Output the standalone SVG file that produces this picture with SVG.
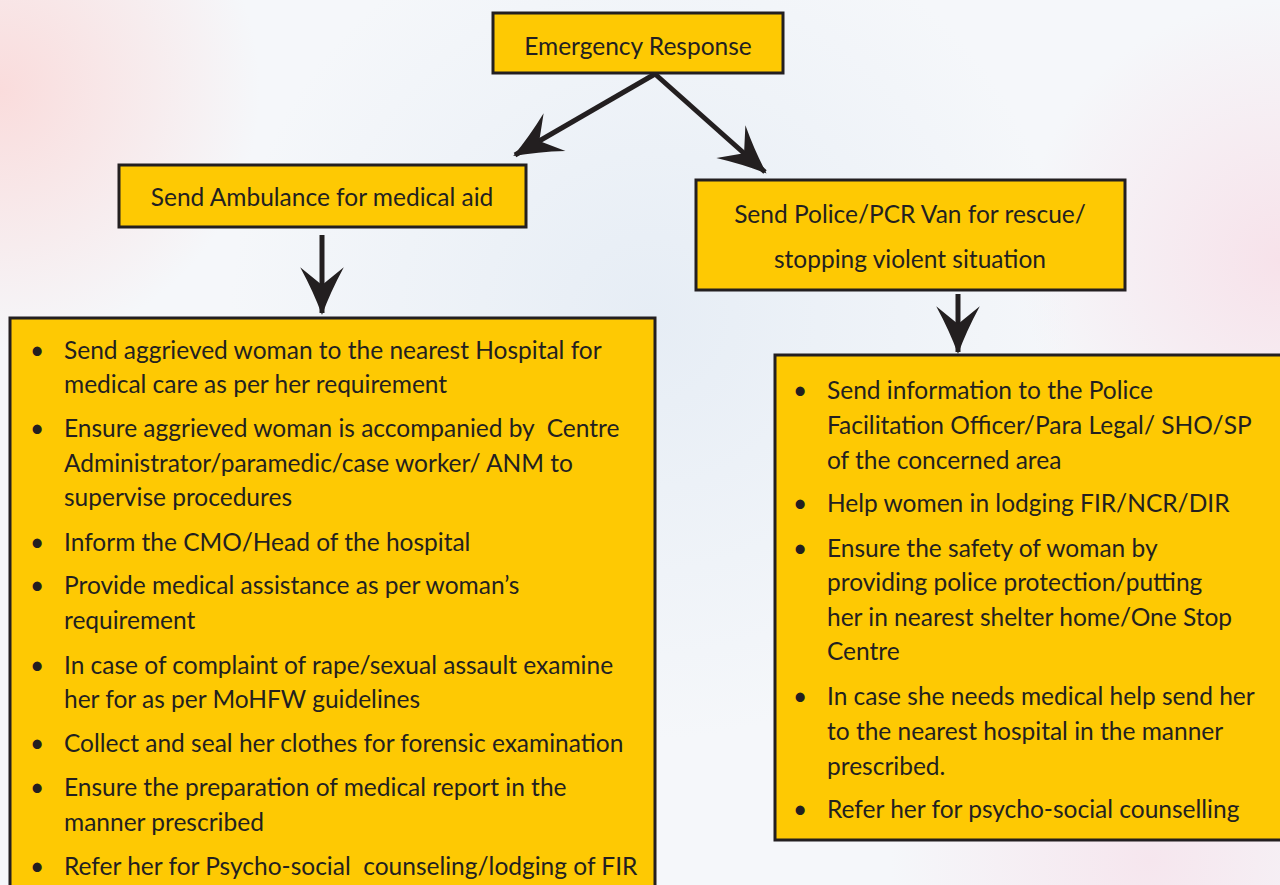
<svg xmlns="http://www.w3.org/2000/svg" width="1280" height="885" viewBox="0 0 1280 885">
  <defs>
    <radialGradient id="tintPink" cx="0" cy="90" r="260" gradientUnits="userSpaceOnUse">
      <stop offset="0" stop-color="#fadcdc"/>
      <stop offset="1" stop-color="#fadcdc" stop-opacity="0"/>
    </radialGradient>
    <radialGradient id="tintRight" cx="1280" cy="260" r="260" gradientUnits="userSpaceOnUse">
      <stop offset="0" stop-color="#f7e2ea"/>
      <stop offset="1" stop-color="#f7e2ea" stop-opacity="0"/>
    </radialGradient>
    <radialGradient id="tintLow" cx="1150" cy="860" r="260" gradientUnits="userSpaceOnUse">
      <stop offset="0" stop-color="#f6e6ee"/>
      <stop offset="1" stop-color="#f6e6ee" stop-opacity="0"/>
    </radialGradient>
    <radialGradient id="tintBlue" cx="650" cy="320" r="420" gradientUnits="userSpaceOnUse">
      <stop offset="0" stop-color="#e6edf5"/>
      <stop offset="1" stop-color="#e6edf5" stop-opacity="0"/>
    </radialGradient>
    <marker id="head" markerUnits="userSpaceOnUse" markerWidth="54" markerHeight="54" viewBox="-48 -24 52 48" refX="0" refY="0" orient="auto">
      <path d="M2,0 Q-20,-8 -44,-21 L-27,0 L-44,21 Q-20,8 2,0 Z" fill="#231f20"/>
    </marker>
    <style>
      .box { fill: #fec903; stroke: #231f20; stroke-width: 3; }
      .lbl { font-family: Lato, "Liberation Sans", sans-serif; font-size: 24.5px; fill: #231f20; }
      .mid { text-anchor: middle; }
      .conn { stroke: #231f20; stroke-width: 5; fill: none; marker-end: url(#head); }
    </style>
  </defs>

  <!-- pale washed background -->
  <rect width="1280" height="885" fill="#f5f7fa"/>
  <rect width="1280" height="885" fill="url(#tintBlue)"/>
  <rect width="1280" height="885" fill="url(#tintPink)"/>
  <rect width="1280" height="885" fill="url(#tintRight)"/>
  <rect width="1280" height="885" fill="url(#tintLow)"/>

  <g id="connectors">
    <line class="conn" x1="655" y1="74" x2="515" y2="155"/>
    <line class="conn" x1="655" y1="74" x2="765" y2="172"/>
    <line class="conn" x1="322" y1="235" x2="322" y2="313"/>
    <line class="conn" x1="958" y1="294" x2="958" y2="352"/>
  </g>

  <g id="emergency">
    <rect class="box" x="493" y="13" width="290" height="60"/>
    <text class="lbl mid" x="638" y="55">Emergency Response</text>
  </g>

  <g id="ambulance">
    <rect class="box" x="119" y="165" width="407" height="62"/>
    <text class="lbl mid" x="322" y="206">Send Ambulance for medical aid</text>
  </g>

  <g id="police">
    <rect class="box" x="696" y="180" width="429" height="110"/>
    <text class="lbl mid" x="910" y="223">Send Police/PCR Van for rescue/</text>
    <text class="lbl mid" x="910" y="268">stopping violent situation</text>
  </g>

  <g id="medical-steps">
    <rect class="box" x="10" y="318" width="645" height="580"/>
    <g class="lbl">
      <text x="30" y="359">•</text>
      <text x="64" y="359">Send aggrieved woman to the nearest Hospital for</text>
      <text x="64" y="393">medical care as per her requirement</text>
      <text x="30" y="437">•</text>
      <text x="64" y="437">Ensure aggrieved woman is accompanied by&#160; Centre</text>
      <text x="64" y="472">Administrator/paramedic/case worker/ ANM to</text>
      <text x="64" y="506">supervise procedures</text>
      <text x="30" y="551">•</text>
      <text x="64" y="551">Inform the CMO/Head of the hospital</text>
      <text x="30" y="594">•</text>
      <text x="64" y="594">Provide medical assistance as per woman’s</text>
      <text x="64" y="629">requirement</text>
      <text x="30" y="674">•</text>
      <text x="64" y="674">In case of complaint of rape/sexual assault examine</text>
      <text x="64" y="708">her for as per MoHFW guidelines</text>
      <text x="30" y="752">•</text>
      <text x="64" y="752">Collect and seal her clothes for forensic examination</text>
      <text x="30" y="796">•</text>
      <text x="64" y="796">Ensure the preparation of medical report in the</text>
      <text x="64" y="831">manner prescribed</text>
      <text x="30" y="875">•</text>
      <text x="64" y="875">Refer her for Psycho-social&#160; counseling/lodging of FIR</text>
    </g>
  </g>

  <g id="police-steps">
    <rect class="box" x="775" y="355" width="520" height="485"/>
    <g class="lbl">
      <text x="793" y="399">•</text>
      <text x="827" y="399">Send information to the Police</text>
      <text x="827" y="434">Facilitation Officer/Para Legal/ SHO/SP</text>
      <text x="827" y="469">of the concerned area</text>
      <text x="793" y="512">•</text>
      <text x="827" y="512">Help women in lodging FIR/NCR/DIR</text>
      <text x="793" y="557">•</text>
      <text x="827" y="557">Ensure the safety of woman by</text>
      <text x="827" y="591">providing police protection/putting</text>
      <text x="827" y="626">her in nearest shelter home/One Stop</text>
      <text x="827" y="660">Centre</text>
      <text x="793" y="705">•</text>
      <text x="827" y="705">In case she needs medical help send her</text>
      <text x="827" y="740">to the nearest hospital in the manner</text>
      <text x="827" y="775">prescribed.</text>
      <text x="793" y="818">•</text>
      <text x="827" y="818">Refer her for psycho-social counselling</text>
    </g>
  </g>
</svg>
